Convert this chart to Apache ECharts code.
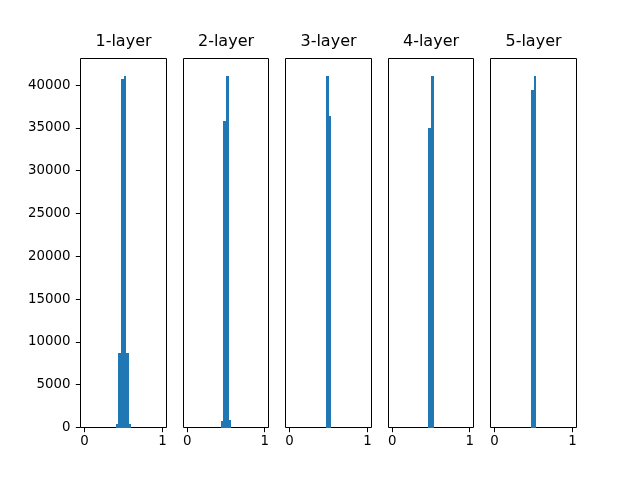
<!DOCTYPE html>
<html><head><meta charset="utf-8">
<script src="https://cdn.jsdelivr.net/npm/echarts@6/dist/echarts.min.js"></script>
<style>html,body{margin:0;padding:0;background:#fff}#c{width:640px;height:480px}</style>
</head><body><div id="c"></div>
<script>
const titles = ['1-layer', '2-layer', '3-layer', '4-layer', '5-layer'];
const binEdgeMin = 0, binEdgeMax = 1, binCount = 30;
const layer1 = [0,0,0,0,0,0,0,0,0,0,0,0,450,8700,40700,41050,8650,450,0,0,0,0,0,0,0,0,0,0,0,0];
const layer2 = [0,0,0,0,0,0,0,0,0,0,0,0,0,965,45630,52325,1070,0,0,0,0,0,0,0,0,0,0,0,0,0];
const layer3 = [0,0,0,0,0,0,0,0,0,0,0,0,0,0,53020,46980,0,0,0,0,0,0,0,0,0,0,0,0,0,0];
const layer4 = [0,0,0,0,0,0,0,0,0,0,0,0,0,0,46035,53965,0,0,0,0,0,0,0,0,0,0,0,0,0,0];
const layer5 = [0,0,0,0,0,0,0,0,0,0,0,0,0,0,48980,51020,0,0,0,0,0,0,0,0,0,0,0,0,0,0];
const layers = [layer1, layer2, layer3, layer4, layer5];
const xTicks = [0, 1];
const yTicks = [0, 5000, 10000, 15000, 20000, 25000, 30000, 35000, 40000];

const FONT = 'DejaVu Sans';
const figL = 80, figR = 576, figT = 57.6, figB = 427.2;
const n = layers.length;
const w = (figR - figL) / (n + (n - 1) * 0.2);
const gap = w * 0.2;

const grids = [], xAxes = [], yAxes = [], series = [], texts = [];
layers.forEach((counts, i) => {
  const l = Math.round(figL + i * (w + gap)) + 0.5;
  const r = Math.round(figL + i * (w + gap) + w) + 0.5;
  const t = Math.round(figT) + 0.5, b = Math.round(figB) + 0.5;
  grids.push({left: l, top: t, width: r - l, height: b - t, show: true,
    borderColor: '#000', borderWidth: 1, backgroundColor: 'transparent', containLabel: false});
  texts.push({type: 'text', x: (l + r) / 2, y: 50, silent: true,
    style: {text: titles[i], textAlign: 'center', textVerticalAlign: 'bottom',
      font: 'normal 16px "DejaVu Sans"', fill: '#000'}});
  xAxes.push({type: 'value', gridIndex: i, min: -0.05, max: 1.05,
    splitLine: {show: false},
    axisLine: {show: false, onZero: false},
    axisTick: {show: true, customValues: xTicks, length: 4.7, lineStyle: {color: '#000', width: 1}},
    axisLabel: {show: true, customValues: xTicks, margin: 8, color: '#000', fontFamily: FONT, fontSize: 13.33,
      formatter: v => String(v)}});
  const ymax = Math.max(...counts) * 1.05;
  yAxes.push({type: 'value', gridIndex: i, min: 0, max: ymax,
    splitLine: {show: false},
    axisLine: {show: false, onZero: false},
    axisTick: {show: i === 0, customValues: yTicks, length: 4.7, lineStyle: {color: '#000', width: 1}},
    axisLabel: {show: i === 0, customValues: yTicks, margin: 10, color: '#000', fontFamily: FONT, fontSize: 13.33,
      formatter: v => String(v)}});
  const bw = (binEdgeMax - binEdgeMin) / binCount;
  const data = counts.map((c, k) => [binEdgeMin + k * bw, binEdgeMin + (k + 1) * bw, c]);
  series.push({type: 'custom', xAxisIndex: i, yAxisIndex: i, encode: {x: [0, 1], y: 2},
    data: data, silent: true,
    renderItem: (params, api) => {
      if (!api.value(2)) return null;
      const p0 = api.coord([api.value(0), 0]);
      const p1 = api.coord([api.value(1), api.value(2)]);
      const x0 = Math.round(p0[0]), x1 = Math.round(p1[0]);
      const y0 = Math.round(p0[1]), y1 = Math.round(p1[1]);
      return {type: 'rect', shape: {x: x0, y: y1, width: x1 - x0, height: y0 - y1},
        style: {fill: '#1f77b4'}};
    }});
});

const chart = echarts.init(document.getElementById('c'), null, {renderer: 'canvas'});
chart.setOption({
  animation: false,
  backgroundColor: '#fff',
  graphic: texts,
  grid: grids,
  xAxis: xAxes,
  yAxis: yAxes,
  series: series
});
</script>
</body></html>
